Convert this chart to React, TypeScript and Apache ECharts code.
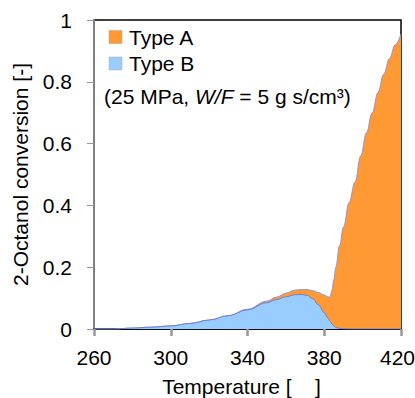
import React, { useEffect, useRef } from "react";
import * as echarts from "echarts";

const temperatures = [260, 270, 280, 290, 300, 310, 320, 330, 340, 350, 355, 360, 365, 368, 371, 374, 377, 380, 382, 383, 384, 385, 386, 388, 390, 393, 396, 399, 402, 405, 408, 411, 414, 417, 420];
const typeB = [0, 0, 0.003, 0.006, 0.01, 0.018, 0.029, 0.043, 0.062, 0.085, 0.095, 0.104, 0.111, 0.112, 0.109, 0.098, 0.078, 0.053, 0.035, 0.025, 0.017, 0.01, 0.005, 0.002, 0.001, 0, 0, 0, 0, 0, 0, 0, 0, 0, 0];
const typeA = [0, 0, 0, 0, 0, 0, 0, 0, 0.002, 0.005, 0.008, 0.012, 0.015, 0.016, 0.019, 0.026, 0.04, 0.057, 0.069, 0.078, 0.108, 0.15, 0.195, 0.268, 0.329, 0.41, 0.475, 0.56, 0.635, 0.7, 0.765, 0.825, 0.875, 0.92, 0.955];
const xTicks = { min: 260, max: 420, interval: 40 };
const yTicks = { min: 0, max: 1, interval: 0.2 };
const seriesNames = ["Type A", "Type B"];
const noteText = ["(25 MPa, ", "W/F", " = 5 g s/cm\u00b3)"];
const xTitle = "Temperature [\u00a0\u00a0\u00a0\u00a0]";
const yTitle = "2-Octanol conversion [-]";

const ORANGE = "#FF9933";
const BLUE = "#99CCFF";
const FONT = "'Liberation Sans', Arial, sans-serif";

export default function App() {
  const ref = useRef<HTMLDivElement>(null);
  useEffect(() => {
    document.body.style.margin = "0";
    document.body.style.overflow = "hidden";
    document.documentElement.style.overflow = "hidden";
    if (!ref.current) return;
    const chart = echarts.init(ref.current, null, { renderer: "svg" });
    const totalData = temperatures.map((t, i) => [t, typeA[i] + typeB[i]]);
    const bData = temperatures.map((t, i) => [t, typeB[i]]);
    chart.setOption({
      animation: false,
      textStyle: { fontFamily: FONT },
      grid: {
        left: 94,
        top: 20,
        right: 14,
        bottom: 69,
        outerBoundsMode: "none",
        containLabel: false,
        show: true,
        borderColor: "#000",
        borderWidth: 1.5,
        backgroundColor: "#fff",
      },
      xAxis: {
        type: "value",
        min: xTicks.min,
        max: xTicks.max,
        interval: xTicks.interval,
        name: xTitle,
        nameLocation: "middle",
        nameGap: 47,
        nameTextStyle: { fontSize: 21, color: "#000", fontFamily: FONT, padding: [0, 12, 0, 0] },
        axisLine: { show: true, lineStyle: { color: "#000", width: 1.5 } },
        axisTick: { show: true, length: 7, lineStyle: { color: "#999", width: 2.5 } },
        axisLabel: {
          fontSize: 21,
          color: "#000",
          margin: 18,
          fontFamily: FONT,
          hideOverlap: false,
          formatter: (v: number) => (v === xTicks.max ? `{r|${v}}` : `${v}`),
          rich: { r: { fontSize: 21, fontFamily: FONT, color: "#000", padding: [0, 7, 0, 0] } },
        },
        splitLine: { show: false },
      },
      yAxis: {
        type: "value",
        min: yTicks.min,
        max: yTicks.max,
        interval: yTicks.interval,
        name: yTitle,
        nameLocation: "middle",
        nameGap: 63,
        nameTextStyle: { fontSize: 21, color: "#000", fontFamily: FONT },
        axisLine: { show: true, lineStyle: { color: "#808080", width: 2 } },
        axisTick: { show: true, length: 7, lineStyle: { color: "#999", width: 1 } },
        axisLabel: { fontSize: 21, color: "#000", margin: 22, fontFamily: FONT },
        splitLine: { show: false },
      },
      series: [
        {
          name: seriesNames[0],
          type: "line",
          data: totalData,
          smooth: 0.4,
          smoothMonotone: "x",
          showSymbol: false,
          symbol: "none",
          lineStyle: { color: "#8f95e0", width: 1 },
          itemStyle: { color: ORANGE },
          areaStyle: { color: ORANGE, opacity: 1 },
          z: 2,
        },
        {
          name: seriesNames[1],
          type: "line",
          data: bData,
          smooth: 0.4,
          smoothMonotone: "x",
          showSymbol: false,
          symbol: "none",
          lineStyle: { color: "#6b7fd8", width: 1 },
          itemStyle: { color: BLUE },
          areaStyle: { color: BLUE, opacity: 1 },
          z: 3,
        },
      ],
      graphic: [
        { type: "rect", shape: { x: 109, y: 30.5, width: 13, height: 13 }, style: { fill: ORANGE, stroke: "#b0a090", lineWidth: 0.5 }, z: 10 },
        { type: "text", x: 129, y: 37, style: { text: seriesNames[0], font: `21px ${FONT}`, fill: "#000", verticalAlign: "middle" }, z: 10 },
        { type: "rect", shape: { x: 109, y: 57, width: 13, height: 13 }, style: { fill: BLUE, stroke: "#a0b0c0", lineWidth: 0.5 }, z: 10 },
        { type: "text", x: 129, y: 63.5, style: { text: seriesNames[1], font: `21px ${FONT}`, fill: "#000", verticalAlign: "middle" }, z: 10 },
        {
          type: "text",
          x: 104,
          y: 96,
          z: 10,
          style: {
            text: `{n|${noteText[0]}}{i|${noteText[1]}}{n|${noteText[2]}}`,
            verticalAlign: "middle",
            rich: {
              n: { fontSize: 21, fontFamily: FONT, fill: "#000" },
              i: { fontSize: 21, fontFamily: FONT, fontStyle: "italic", fill: "#000" },
            },
          },
        },
      ],
    });
    return () => chart.dispose();
  }, []);
  return <div ref={ref} style={{ width: 415, height: 398 }} />;
}
